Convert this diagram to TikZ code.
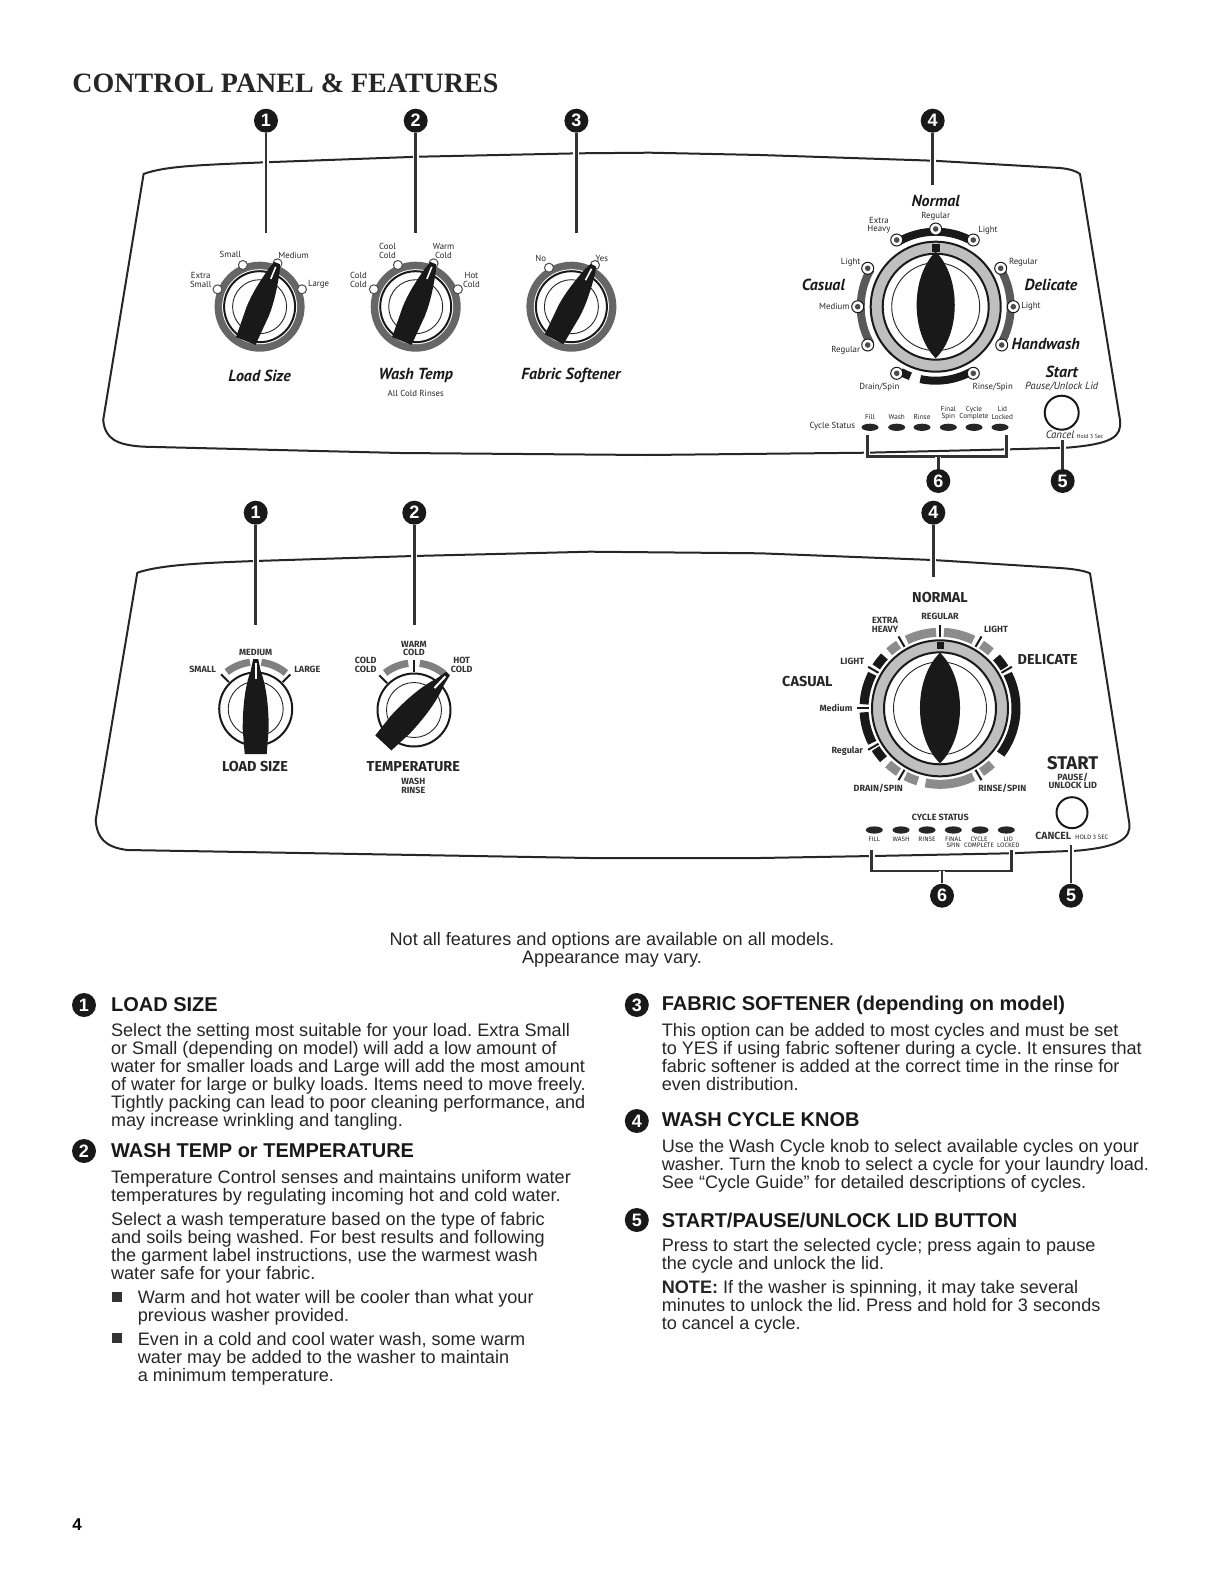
\documentclass[tikz,border=0pt]{standalone}
\usepackage{fontspec}
\setsansfont{Liberation Sans}
\newfontfamily\titlefont{Liberation Serif}
\newfontfamily\panelfont{PT Sans}
\newfontfamily\capsfont{Fira Sans}
\usetikzlibrary{positioning,arrows.meta,calc,shapes.geometric}

\begin{document}
\frenchspacing
\begin{tikzpicture}[x=0.5pt,y=-0.5pt,
  panel/.style={line width=1pt, black!85, line join=round},
  leader/.style={line width=1.3pt, black!80, preaction={draw=white, line width=3pt}},
  badge/.style={circle, fill=black!90, text=white, minimum size=12pt, inner sep=0pt,
                font=\sffamily\bfseries\fontsize{9}{9}\selectfont},
  lab/.style={font=\panelfont\fontsize{4.4}{4.3}\selectfont, align=center, inner sep=0pt, text=black!85},
  dialcap/.style={font=\panelfont\bfseries\itshape\fontsize{8}{8}\selectfont, inner sep=0pt, text=black!90},
  tiny/.style={font=\panelfont\fontsize{3.6}{3.7}\selectfont, align=center, inner sep=0pt, text=black!85},
  caps/.style={font=\capsfont\bfseries\fontsize{4.5}{4.3}\selectfont, align=center, inner sep=0pt, text=black!80},
  bigcaps/.style={font=\capsfont\bfseries\fontsize{7.2}{8}\selectfont, inner sep=0pt, text=black!85},
  minicaps/.style={font=\capsfont\fontsize{3.2}{3}\selectfont, align=center, inner sep=0pt, text=black!85},
  led/.style={ellipse, fill=black!85, minimum width=8.5pt, minimum height=3.6pt, inner sep=0pt},
  opt/.style={draw=black!70, fill=white, line width=0.5pt},
  ringline/.style={draw=black!90, line width=1pt},
  thinline/.style={draw=black!85, line width=0.45pt},
  tickmark/.style={black!90, line width=1pt},
  body/.style={font=\sffamily\fontsize{9.05}{9}\selectfont, align=left, inner sep=0pt, anchor=north west, text=black!85},
  head/.style={font=\sffamily\bfseries\fontsize{10}{10}\selectfont, inner sep=0pt, anchor=west, text=black!90},
  bullet/.style={fill=black!80, minimum size=5pt, inner sep=0pt}
]
  \useasboundingbox (0,0) rectangle (1224,1584);

  \node[font=\titlefont\bfseries\fontsize{14}{16}\selectfont, inner sep=0pt, anchor=west, text=black!85] (title) at (72,83) {CONTROL PANEL \& FEATURES};

  % upper panel
  \draw[panel] (143.6,174) .. controls (165,166) and (200,165) .. (265,162.3) -- (418.6,156.7) -- (579.3,153.3)
    -- (650,152.7) -- (760,155) -- (933,160.7) -- (1060,168) .. controls (1070,169) and (1076,171) .. (1080,174)
    -- (1120,420) .. controls (1122,437) and (1112,444) .. (1066.7,447.7) -- (1010,449.3) -- (866.7,452.7)
    -- (647,455) -- (400,453) -- (143.6,446.7) .. controls (115,445) and (105,438) .. (103.2,420) -- cycle;

  \coordinate (c1) at (259.6,306.7);
  \coordinate (c2) at (415.7,306.7);
  \coordinate (c3) at (571.4,306.7);
  \foreach \c in {c1,c2,c3} {
    \fill[black!60] (\c) circle (45);
    \fill[white] (\c) circle (37.5);
    \draw[ringline] (\c) circle (35.5);
    \draw[thinline] (\c) circle (27);
  }
  \foreach \x/\y in {217.5/289.3, 242.9/265, 277.5/263.3, 302/289.3, 373.9/289.3, 397.9/265, 433.6/263.3,
                     457.9/289.3, 549/267.7, 595/265} {
    \draw[opt] (\x,\y) circle (4.5);
  }
  \foreach \c/\a in {c1/-22,c2/-22,c3/-28} {
    \begin{scope}[shift={(\c)},rotate=\a]
      \fill[black!90] (-3,-47) -- (3,-47) -- (5.5,-40) .. controls (9,-25) and (12,-10) .. (12,5)
        -- (10.5,37) -- (-10.5,37) -- (-12,5) .. controls (-12,-10) and (-9,-25) .. (-5.5,-40) -- cycle;
      \draw[white, line width=0.8pt] (0,-43) -- (0,-30);
    \end{scope}
  }

  \node[lab] (tSmall) at (230.4,254.7) {Small};
  \node[lab] (tMedium) at (293.6,255.3) {Medium};
  \node[lab] (tExtra) at (200.7,280) {Extra\\Small};
  \node[lab] (tLarge) at (318.6,284.3) {Large};
  \node[lab] (tCool) at (387.5,250.7) {Cool\\Cold};
  \node[lab] (tWarm) at (443.6,250.7) {Warm\\Cold};
  \node[lab] (tCold) at (358.6,280) {Cold\\Cold};
  \node[lab] (tHot) at (471.4,280) {Hot\\Cold};
  \node[lab] (tNo) at (540.7,258.3) {No};
  \node[lab] (tYes) at (601.8,258.3) {Yes};
  \node[dialcap] (tLoad) at (259.6,375.7) {Load Size};
  \node[dialcap] (tWashTemp) at (415.7,375.7) {Wash Temp};
  \node[lab] (tRinses) at (415.7,393.3) {All Cold Rinses};
  \node[dialcap] (tFabric) at (571,375.7) {Fabric Softener};

  % upper cycle knob
  \coordinate (c4) at (935.7,306.7);
  \draw[ringline, fill=black!25] (c4) circle (65);
  \draw[ringline, fill=white] (c4) circle (53);
  \draw[thinline] (c4) circle (44);
  \fill[black!90] (935.7,251.7) .. controls +(-25.4,25) and +(-25.4,-25) .. (935.7,358.3)
    .. controls +(25.4,-25) and +(25.4,25) .. cycle;
  \fill[black!90] (931.7,244.3) rectangle (939.7,252.3);
  \draw[black!90, line width=4pt] (c4) ++(-120:75) arc (-120:-60:75);
  \draw[black!65, line width=4pt] (c4) ++(150:75) arc (150:210:75);
  \draw[black!65, line width=4pt] (c4) ++(-30:75) arc (-30:30:75);
  \draw[black!90, line width=4pt] (c4) ++(102:74) arc (102:62:74);
  \draw[black!90, line width=4pt] (c4) ++(110:74) arc (110:118:74);
  \foreach \x/\y in {896.7/240, 935.7/229, 973.3/240, 867.7/268.3, 857.7/306.7, 867.7/345, 1000.7/268.3,
                     1013.3/306.7, 1001.7/345, 896.7/373.3, 973.3/373.3} {
    \draw[opt, draw=black!90] (\x,\y) circle (6);
    \fill[black!70] (\x,\y) circle (2.8);
  }
  \node[dialcap] (tNormal) at (935.7,200.7) {Normal};
  \node[lab] (tRegular) at (935.7,216) {Regular};
  \node[lab] (tHeavy) at (879,225.3) {Extra\\Heavy};
  \node[lab] (tLight) at (988,230) {Light};
  \node[lab] (tLightB) at (850.7,262.7) {Light};
  \node[dialcap] (tCasual) at (823.3,285) {Casual};
  \node[lab] (tMediumB) at (834.3,306.7) {Medium};
  \node[lab] (tRegularB) at (845.7,350) {Regular};
  \node[lab] (tRegularC) at (1023.3,262.7) {Regular};
  \node[dialcap] (tDelicate) at (1051,285) {Delicate};
  \node[lab] (tLightC) at (1031,306.7) {Light};
  \node[dialcap] (tHandwash) at (1045.7,344.3) {Handwash};
  \node[lab] (tDrain) at (879.3,387.3) {Drain/Spin};
  \node[lab] (tRinse) at (992.7,387.3) {Rinse/Spin};
  \node[dialcap] (tStart) at (1061.7,371.5) {Start};
  \node[lab, font=\panelfont\itshape\fontsize{5.2}{5}\selectfont] (tPause) at (1061.7,386.7) {Pause/Unlock Lid};
  \draw[ringline] (1061.7,412.7) circle (17);
  \node[lab, font=\panelfont\itshape\fontsize{5.4}{5}\selectfont] (tCancel) at (1060,435) {Cancel};
  \node[tiny, font=\panelfont\fontsize{2.9}{3}\selectfont] (tHold) at (1090,436.7) {Hold 3 Sec};

  \node[lab] (tStatus) at (832.3,426.7) {Cycle Status};
  \foreach \n/\x in {1/870,2/896.7,3/922,4/948.3,5/974,6/1000} {
    \node[led] (led\n) at (\x,427.3) {};
  }
  \node[tiny] (tFill) at (870,416.7) {Fill};
  \node[tiny] (tWash) at (896.7,416.7) {Wash};
  \node[tiny] (tRinseB) at (922,416.7) {Rinse};
  \node[tiny] (tFinal) at (948.3,413) {Final\\Spin};
  \node[tiny] (tCycle) at (974,413) {Cycle\\Complete};
  \node[tiny] (tLid) at (1002.3,413) {Lid\\Locked};

  \node[badge] (b1) at (266,120.7) {1};
  \node[badge] (b2) at (415.7,120.7) {2};
  \node[badge] (b3) at (576.4,120.7) {3};
  \node[badge] (b4) at (932.7,120.7) {4};
  \node[badge] (b5) at (1062.7,481) {5};
  \node[badge] (b6) at (938.3,481) {6};
  \coordinate (e1) at (266,233);
  \coordinate (e2) at (415.7,233);
  \coordinate (e3) at (576.4,233);
  \coordinate (e4) at (932.7,185);
  \coordinate (e5) at (1062.7,440);
  \coordinate (brA) at (867.3,435);
  \coordinate (brB) at (1006.7,435);
  \coordinate (brC) at (938.3,456.7);
  \draw[leader] (b1) -- (e1);
  \draw[leader] (b2) -- (e2);
  \draw[leader] (b3) -- (e3);
  \draw[leader] (b4) -- (e4);
  \draw[leader] (b5) -- (e5);
  \draw[leader] (brA) |- (brC) -| (brB);
  \draw[leader] (b6) -- (brC);

  % lower panel
  \draw[panel] (137.3,572.7) .. controls (160,565) and (200,563) .. (255,561) -- (413.3,556) -- (590,551.7)
    -- (760,553.3) -- (933,560) -- (1060,568) .. controls (1075,569) and (1085,571) .. (1090,573.3)
    -- (1129.3,823.3) .. controls (1131,838) and (1120,847) .. (1076.7,850.7) -- (1010,853.3) -- (873,856)
    -- (760,858) -- (590,858) -- (127,850) .. controls (105,847) and (97,838) .. (95.7,820) -- cycle;

  \coordinate (c5) at (255.7,709);
  \coordinate (c6) at (414,710);
  \foreach \c in {c5,c6} {
    \draw[ringline] (\c) circle (36.5);
    \draw[thinline] (\c) circle (27.5);
    \draw[black!50, line width=3.6pt] (\c) ++(-128:47) arc (-128:-97:47);
    \draw[black!50, line width=3.6pt] (\c) ++(-83:47) arc (-83:-50:47);
    \draw[tickmark] (\c) ++(-135:38) -- ++(-135:11);
  }
  \draw[tickmark] (c5) ++(-45:38) -- ++(-45:11);
  \draw[tickmark] (c6) ++(-90:38) -- ++(-90:12);
  \foreach \c/\a in {c5/0,c6/-43} {
    \begin{scope}[shift={(\c)},rotate=\a]
      \fill[black!90] (-2.5,-50) -- (2.5,-50) -- (5,-38) .. controls (10,-25) and (13,-5) .. (13,20)
        -- (11,45) -- (-11,45) -- (-13,20) .. controls (-13,-5) and (-10,-25) .. (-5,-38) -- cycle;
      \draw[white, line width=1pt] (0,-46) -- (0,-30);
    \end{scope}
  }
  \node[caps] (lMedium) at (255.7,652.3) {MEDIUM};
  \node[caps] (lSmall) at (202.7,669) {SMALL};
  \node[caps] (lLarge) at (307.3,669) {LARGE};
  \node[bigcaps] (lLoad) at (255,766.7) {LOAD SIZE};
  \node[caps] (lWarm) at (414,648.3) {WARM\\COLD};
  \node[caps] (lCold) at (365.7,664.7) {COLD\\COLD};
  \node[caps] (lHot) at (461.7,664.7) {HOT\\COLD};
  \node[bigcaps] (lTemp) at (413.3,766.7) {TEMPERATURE};
  \node[caps] (lWash) at (413.3,785.7) {WASH\\RINSE};

  % lower cycle knob
  \coordinate (c7) at (940,708.3);
  \draw[ringline, fill=black!25] (c7) circle (68);
  \draw[ringline, fill=white] (c7) circle (56);
  \draw[thinline] (c7) circle (46.5);
  \fill[black!90] (940,652.7) .. controls +(-26.7,26) and +(-26.7,-26) .. (940,763.3)
    .. controls +(26.7,-26) and +(26.7,26) .. cycle;
  \fill[black!90] (936.5,642.2) rectangle (943.5,649.2);
  \foreach \s/\e in {-132/-123,-116/-93,-87/-64,-57/-48,47/57,64/101,107/117,123/133} {
    \draw[black!45, line width=4.5pt] (c7) ++(\s:76) arc (\s:\e:76);
  }
  \foreach \s/\e in {213/223,183/207,153/177,138/148,-42/-32,-27/37} {
    \draw[black!90, line width=4.5pt] (c7) ++(\s:76) arc (\s:\e:76);
  }
  \foreach \t in {-120,-90,-60,-30,60,120,150,180,210} {
    \draw[tickmark] (c7) ++(\t:71) -- ++(\t:12);
  }
  \node[bigcaps] (lNormal) at (940,597.7) {NORMAL};
  \node[caps] (lRegular) at (940,616.7) {REGULAR};
  \node[caps] (lHeavy) at (885,625) {EXTRA\\HEAVY};
  \node[caps] (lLight) at (996,629.3) {LIGHT};
  \node[caps] (lLightB) at (852.3,661.7) {LIGHT};
  \node[bigcaps] (lCasual) at (807.3,681.7) {CASUAL};
  \node[caps] (lMediumB) at (836,707.7) {Medium};
  \node[caps] (lRegularB) at (847.3,751) {Regular};
  \node[bigcaps] (lDelicate) at (1047.7,660) {DELICATE};
  \node[caps] (lDrain) at (878.3,788.3) {DRAIN/SPIN};
  \node[caps] (lRinse) at (1002.3,788.3) {RINSE/SPIN};
  \node[bigcaps, font=\capsfont\bfseries\fontsize{9.2}{9}\selectfont] (lStart) at (1072.7,763.3) {START};
  \node[caps] (lPause) at (1072.7,781) {PAUSE/\\UNLOCK LID};
  \draw[ringline] (1072,812.7) circle (15.5);
  \node[caps, font=\capsfont\bfseries\fontsize{5.2}{5}\selectfont] (lCancel) at (1053.3,836) {CANCEL};
  \node[minicaps] (lHold) at (1091.7,837.3) {HOLD 3 SEC};

  \node[caps] (lStatus) at (940.3,817.7) {CYCLE STATUS};
  \foreach \n/\x in {1/874.3,2/901,3/927,4/953.3,5/980,6/1006.3} {
    \node[led] (ledB\n) at (\x,830) {};
  }
  \node[minicaps] (lFill) at (874.3,839) {FILL};
  \node[minicaps] (lWashB) at (901,839) {WASH};
  \node[minicaps] (lRinseB) at (927,839) {RINSE};
  \node[minicaps] (lFinal) at (953.3,842) {FINAL\\SPIN};
  \node[minicaps] (lCycle) at (979,842) {CYCLE\\COMPLETE};
  \node[minicaps] (lLid) at (1008.3,842) {LID\\LOCKED};

  \node[badge] (m1) at (255.7,512.7) {1};
  \node[badge] (m2) at (414.3,512.7) {2};
  \node[badge] (m4) at (933.3,512.7) {4};
  \node[badge] (m5) at (1071,895.7) {5};
  \node[badge] (m6) at (942,895.7) {6};
  \coordinate (g1) at (255.7,625);
  \coordinate (g2) at (414.3,625);
  \coordinate (g4) at (933.3,577.3);
  \coordinate (g5) at (1071,845);
  \coordinate (gA) at (871.7,850);
  \coordinate (gB) at (1011.7,850);
  \coordinate (gC) at (942,871);
  \draw[leader] (m1) -- (g1);
  \draw[leader] (m2) -- (g2);
  \draw[leader] (m4) -- (g4);
  \draw[leader] (m5) -- (g5);
  \draw[leader] (gA) |- (gC) -| (gB);
  \draw[leader] (m6) -- (gC);

  \node[body, align=center, anchor=north] (note) at (612,932) {Not all features and options are available on all models.\\Appearance may vary.};

  % left column
  \node[badge] (s1) at (84,1005) {1};
  \node[head] (h1) at (110.7,1005) {LOAD SIZE};
  \node[body] (p1) at (110.7,1023) {Select the setting most suitable for your load. Extra Small\\or Small (depending on model) will add a low amount of\\water for smaller loads and Large will add the most amount\\of water for large or bulky loads. Items need to move freely.\\Tightly packing can lead to poor cleaning performance, and\\may increase wrinkling and tangling.};
  \node[badge] (s2) at (84,1151) {2};
  \node[head] (h2) at (110.7,1151) {WASH TEMP or TEMPERATURE};
  \node[body] (p2) at (110.7,1170) {Temperature Control senses and maintains uniform water\\temperatures by regulating incoming hot and cold water.};
  \node[body] (p3) at (110.7,1212) {Select a wash temperature based on the type of fabric\\and soils being washed. For best results and following\\the garment label instructions, use the warmest wash\\water safe for your fabric.};
  \node[bullet] (d1) at (116.8,1297.3) {};
  \node[body] (p4) at (137.5,1289.5) {Warm and hot water will be cooler than what your\\previous washer provided.};
  \node[bullet] (d2) at (116.8,1338) {};
  \node[body] (p5) at (137.5,1331.5) {Even in a cold and cool water wash, some warm\\water may be added to the washer to maintain\\a minimum temperature.};

  % right column
  \node[badge] (s3) at (636.8,1005) {3};
  \node[head] (h3) at (661.4,1005) {FABRIC SOFTENER (depending on model)};
  \node[body] (p6) at (661.4,1023) {This option can be added to most cycles and must be set\\to YES if using fabric softener during a cycle. It ensures that\\fabric softener is added at the correct time in the rinse for\\even distribution.};
  \node[badge] (s4) at (636.8,1121) {4};
  \node[head] (h4) at (661.4,1120) {WASH CYCLE KNOB};
  \node[body] (p7) at (661.4,1139) {Use the Wash Cycle knob to select available cycles on your\\washer. Turn the knob to select a cycle for your laundry load.\\See ``Cycle Guide'' for detailed descriptions of cycles.};
  \node[badge] (s5) at (636.8,1220) {5};
  \node[head] (h5) at (661.4,1220) {START/PAUSE/UNLOCK LID BUTTON};
  \node[body] (p8) at (661.4,1238) {Press to start the selected cycle; press again to pause\\the cycle and unlock the lid.};
  \node[body] (p9) at (661.4,1280) {\textbf{NOTE:} If the washer is spinning, it may take several\\minutes to unlock the lid. Press and hold for 3 seconds\\to cancel a cycle.};

  \node[font=\sffamily\bfseries\fontsize{8.5}{9}\selectfont, inner sep=0pt] (pageno) at (77,1525) {4};
\end{tikzpicture}
\end{document}
